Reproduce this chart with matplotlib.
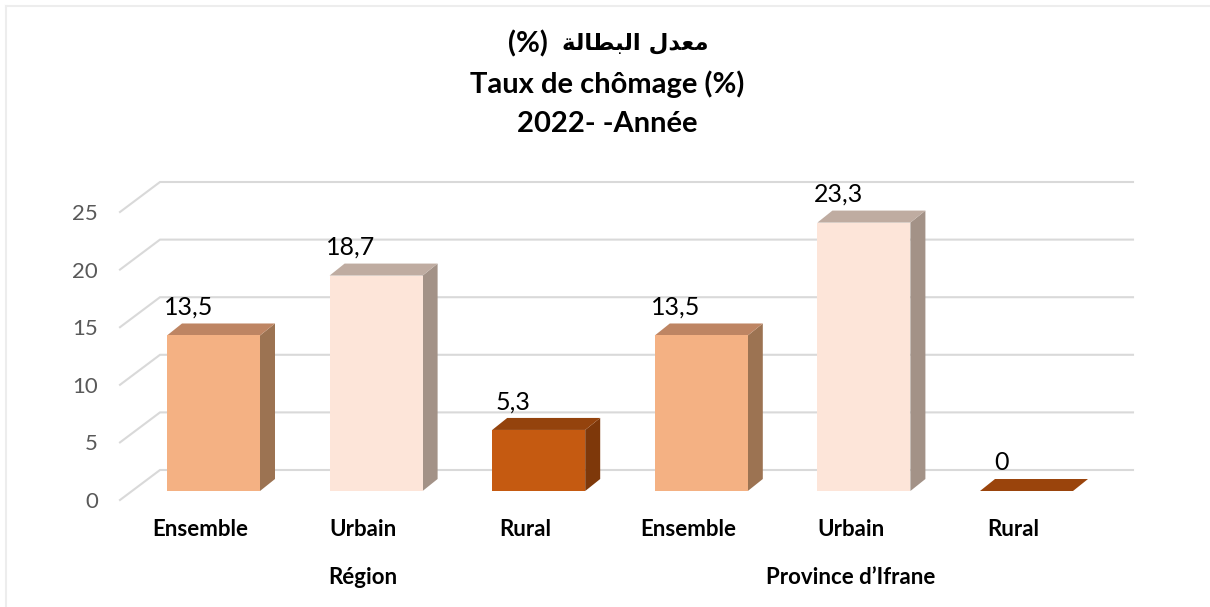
import matplotlib
matplotlib.use('Agg')
import matplotlib.pyplot as plt
from matplotlib.patches import Polygon
from matplotlib.lines import Line2D

# ── Data ─────────────────────────────────────────────────────────────────────
categories = ['Ensemble', 'Urbain', 'Rural', 'Ensemble', 'Urbain', 'Rural']
groups = ['Région', 'Province d’Ifrane']
group_pos = [1, 4]
values = [13.5, 18.7, 5.3, 13.5, 23.3, 0]
value_labels = ['13,5', '18,7', '5,3', '13,5', '23,3', '0']
yticks = [0, 5, 10, 15, 20, 25]

title_ar = 'معدل البطالة'
title_pct = '(%)'
title_fr = 'Taux de chômage (%)'
title_year = '2022- -Année'

# face colours per category: front, top, side
colors = {
    'Ensemble': ('#F4B183', '#BE8563', '#9C7352'),
    'Urbain': ('#FDE5D9', '#BFACA1', '#A39287'),
    'Rural': ('#C55A11', '#94430D', '#7E380A'),
}

FONT = ['Lato', 'DejaVu Sans']

# ── Arabic shaping (matplotlib has no bidi / joining) ─────────────────────────
AR_FORMS = {  # isolated, final, initial, medial
    'م': ('\uFEE1', '\uFEE2', '\uFEE3', '\uFEE4'),
    'ع': ('\uFEC9', '\uFECA', '\uFECB', '\uFECC'),
    'د': ('\uFEA9', '\uFEAA', None, None),
    'ل': ('\uFEDD', '\uFEDE', '\uFEDF', '\uFEE0'),
    'ا': ('\uFE8D', '\uFE8E', None, None),
    'ب': ('\uFE8F', '\uFE90', '\uFE91', '\uFE92'),
    'ط': ('\uFEC1', '\uFEC2', '\uFEC3', '\uFEC4'),
    'ة': ('\uFE93', '\uFE94', None, None),
}


def shape_ar(text):
    out = []
    for i, ch in enumerate(text):
        f = AR_FORMS.get(ch)
        if f is None:
            out.append(ch)
            continue
        prev = text[i - 1] if i > 0 else ''
        nxt = text[i + 1] if i + 1 < len(text) else ''
        join_prev = prev in AR_FORMS and AR_FORMS[prev][2] is not None
        join_next = nxt in AR_FORMS and f[2] is not None
        if join_prev and join_next:
            out.append(f[3])
        elif join_prev:
            out.append(f[1])
        elif join_next:
            out.append(f[2])
        else:
            out.append(f[0])
    return ''.join(reversed(out))


# ── Figure ───────────────────────────────────────────────────────────────────
W, H = 1210, 607
fig = plt.figure(figsize=(W / 100, H / 100), dpi=100)
fig.patch.set_facecolor('white')

# thin chart-area border (top and left visible)
fig.add_artist(Line2D([6 / W, 1], [1 - 5.5 / H, 1 - 5.5 / H], color='#EDEDED', lw=1.5))
fig.add_artist(Line2D([5.5 / W, 5.5 / W], [0, 1 - 5.5 / H], color='#EDEDED', lw=1.5))

# axes in pixel box 100..1150 x 170..510
ax = fig.add_axes([100 / W, (H - 510) / H, 1050 / W, 340 / H])
PX_X = 162.6   # px per category
PX_Y = 11.52   # px per unit
x0_px = 213.5
ax.set_xlim((100 - x0_px) / PX_X, (1150 - x0_px) / PX_X)
ax.set_ylim((500 - 510) / PX_Y, (500 - 170) / PX_Y)
for s in ax.spines.values():
    s.set_visible(False)
ax.set_xticks([])
ax.set_yticks(yticks)
ax.set_yticklabels([str(t) for t in yticks])
ax.tick_params(axis='y', length=0, pad=1.5, labelsize=16, labelcolor='#595959')
for lab in ax.get_yticklabels():
    lab.set_family(FONT)

# 3D geometry (data units)
wall_dx, wall_dy = 40 / PX_X, 30 / PX_Y
left_front = (120 - x0_px) / PX_X
right_back = (1133 - x0_px) / PX_X
floor = 9 / PX_Y
bar_w = 93 / PX_X
bar_dx, bar_dy = 15 / PX_X, 12 / PX_Y

# back wall gridlines with floor diagonals
for t in yticks:
    ax.plot([left_front, left_front + wall_dx, right_back],
            [t, t + wall_dy, t + wall_dy], color='#D9D9D9', lw=1.5,
            solid_joinstyle='miter', zorder=1)

# bars
xs = list(range(len(values)))
for x, v, cat, lab in zip(xs, values, categories, value_labels):
    front, top, side = colors[cat]
    xl, xr = x - bar_w / 2, x + bar_w / 2
    yb, yt = floor, floor + v
    if v == 0:
        top = '#9A440C'
    ax.add_patch(Polygon([(xr, yb), (xr + bar_dx, yb + bar_dy),
                          (xr + bar_dx, yt + bar_dy), (xr, yt)],
                         closed=True, facecolor=side, edgecolor='none', zorder=3))
    ax.add_patch(Polygon([(xl, yt), (xr, yt), (xr + bar_dx, yt + bar_dy),
                          (xl + bar_dx, yt + bar_dy)],
                         closed=True, facecolor=top, edgecolor='none', zorder=3))
    if v > 0:
        ax.bar(x, v, bottom=yb, width=bar_w, color=front, edgecolor='none', zorder=3)
    ax.text(x - 0.155, yt + bar_dy + 1.4, lab, ha='center', va='center',
            fontsize=18, family=FONT, color='black', zorder=4)

# category and group labels
for x, cat in zip(xs, categories):
    ax.text(x - 0.08, (500 - 530) / PX_Y, cat, ha='center', va='center',
            fontsize=16, fontweight='bold', family=FONT, clip_on=False)
for gx, g in zip(group_pos, groups):
    ax.text(gx - 0.08, (500 - 577) / PX_Y, g, ha='center', va='center',
            fontsize=16, fontweight='bold', family=FONT, clip_on=False)

# titles
cx = 607 / W
fig.text(548 / W, 1 - 44 / H, title_pct, ha='right', va='center',
         fontsize=21, fontweight='bold', family=FONT)
fig.text(708 / W, 1 - 43 / H, shape_ar(title_ar), ha='right', va='center',
         fontsize=16.5, fontweight='bold', family='DejaVu Sans')
fig.text(cx, 1 - 84 / H, title_fr, ha='center', va='center',
         fontsize=21, fontweight='bold', family=FONT)
fig.text(cx, 1 - 124 / H, title_year, ha='center', va='center',
         fontsize=21, fontweight='bold', family=FONT)

fig.savefig('out.png', dpi=100, facecolor='white')
